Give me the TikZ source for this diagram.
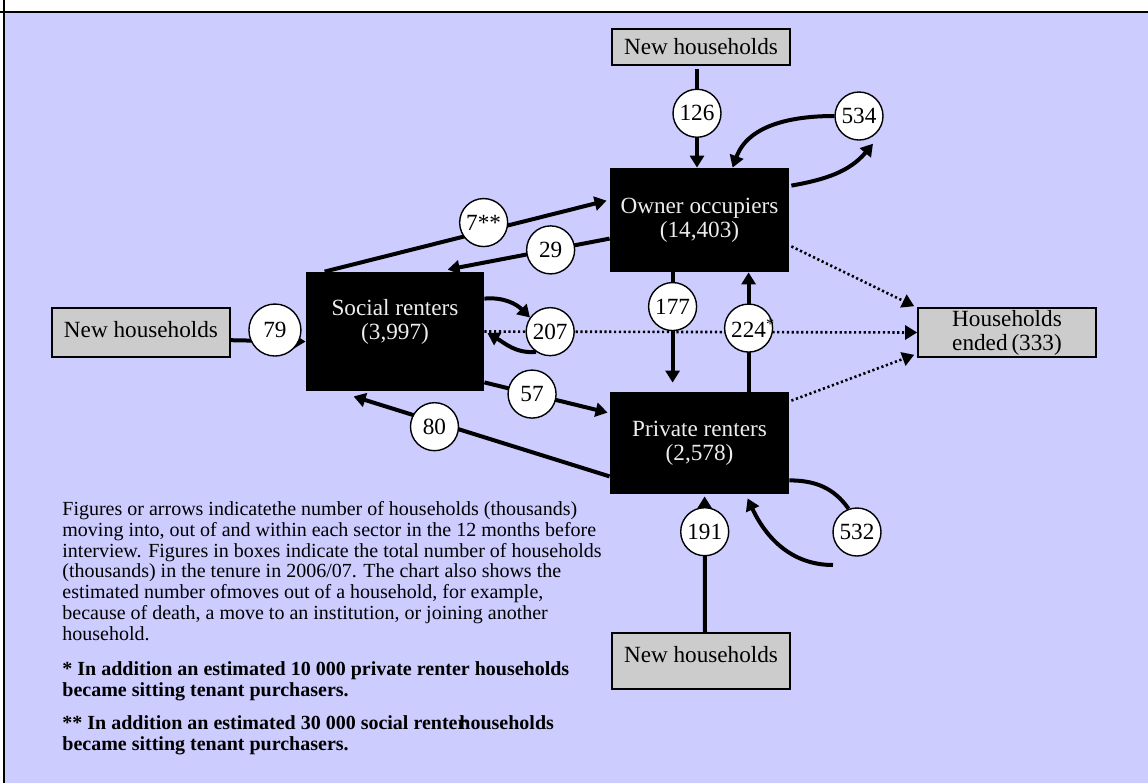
\documentclass[tikz,border=0pt]{standalone}
\usepackage{fontspec}
\setmainfont{Liberation Serif}
\usetikzlibrary{calc,arrows.meta}
\definecolor{lavender}{HTML}{CCCCFF}
\definecolor{boxgrey}{HTML}{CCCCCC}
\newcommand{\boxfont}{\fontsize{11.6}{12}\selectfont}
\newcommand{\notefont}{\fontsize{10}{10.4}\selectfont}
\tikzset{
  sector/.style={fill=black, text=white!93!black, inner sep=0pt, font=\boxfont, align=center},
  newbox/.style={draw=black, line width=0.8pt, fill=boxgrey, inner sep=0pt, font=\boxfont, align=center},
  num/.style={circle, draw=black, solid, line width=0.7pt, fill=white, inner sep=0pt, minimum size=24pt, font=\boxfont},
  flow/.style={line width=2pt, -{Triangle[length=6pt,width=7pt]}},
  flowline/.style={line width=2pt},
  gone/.style={line width=1.3pt, dash pattern=on 1.1pt off 1.3pt, -{Triangle[length=6pt,width=7pt]}},
  note/.style={inner sep=0pt, align=left, font=\notefont},
}

\begin{document}
\begin{tikzpicture}[x=0.5pt, y=0.5pt]
  \useasboundingbox (0,0) rectangle (1148,-783);
  % ---- frame ----
  \fill[white] (0,0) rectangle (1148,-783);
  \fill[lavender] (3,-12) rectangle (1148,-783);
  \draw[line width=1pt] (0,-12) -- (1148,-12);
  \draw[line width=1pt] (3.5,0) -- (3.5,-783);

  % ---- tenure boxes ----
  \node[sector, minimum width=89.5pt, minimum height=52pt] (own) at (699.5,-220) {Owner occupiers\\(14,403)};
  \node[sector, minimum width=89pt, minimum height=59.5pt, text depth=11.7pt] (soc) at (395,-331.5) {Social renters\\(3,997)};
  \node[sector, minimum width=89.5pt, minimum height=51pt] (pr) at (699.5,-443) {Private renters\\(2,578)};

  % ---- in / out boxes ----
  \node[newbox, minimum width=89pt, minimum height=18pt] (nhT) at (701,-47) {New households};
  \node[newbox, minimum width=89pt, minimum height=24.5pt, text depth=3.5pt] (nhL) at (141,-332.5) {New households};
  \node[newbox, minimum width=89pt, minimum height=28pt, text depth=7pt] (nhB) at (701,-661) {New households};
  \node[newbox, minimum width=89pt, minimum height=24.5pt] (he) at (1007,-332.5) {Households\\ended\,(333)};

  % ---- households ended (dotted) ----
  \draw[gone] (soc.east) -- node[num, pos=0.152] (o207) {207} (he.west);
  \draw[gone] ($(own.south east)+(2,26)$) -- ($(he.north west)+(-3,1)$);
  \draw[gone] ($(pr.north east)+(2,-9)$) -- ($(he.south west)+(-3,3)$);

  % ---- owner occupiers ----
  \draw[flow] ($(nhT.south)+(-4,-3)$) -- node[num, pos=0.45] (o126) {126} ($(own.north)+(-2.5,0)$);
  \node[num] (o534) at (859,-116) {534};
  \draw[flow] (o534.west) to[out=180, in=70] ($(own.north west)+(123,0)$);
  \draw[flow] ($(own.north east)+(2,-18)$) to[out=10, in=230] ($(o534.south)+(14,-3)$);

  % ---- social <-> owner ----
  \draw[flow] ($(soc.north west)+(19,0)$) -- node[num, pos=0.564, yshift=4.5pt] (o7) {7**} ($(own.north west)+(-3,-33)$);
  \draw[flow] ($(own.north west)+(0,-71)$) -- node[num, pos=0.364] (o29) {29} ($(soc.north west)+(142,2)$);

  % ---- within social ----
  \draw[flow] ($(soc.north east)+(0,-27)$) to[out=5, in=135] (o207.145);
  \draw[flow] (o207.235) to[out=185, in=-30] ($(soc.east)+(3,-1.5)$);
  \draw[flow] ($(nhL.north east)+(0,-33)$) -- node[num, pos=0.59, yshift=5.5pt, minimum size=26pt] (o79) {79} ($(soc.north west)+(0,-70)$);

  % ---- social <-> private ----
  \draw[flow] ($(soc.south east)+(0,9)$) -- node[num, pos=0.387] (o57) {57} ($(pr.north west)+(-2,-21)$);
  \draw[flow] ($(pr.south west)+(0,18)$) -- node[num, pos=0.684, yshift=-2.5pt] (o80) {80} ($(soc.south west)+(48,-5)$);

  % ---- owner <-> private ----
  \draw[flow] ($(own.south west)+(63,0)$) -- node[num, pos=0.31] (o177) {177} ($(pr.north west)+(63,9)$);
  \draw[flow] ($(pr.north west)+(139,0)$) -- node[num, pos=0.533] (o224) {224\rlap{\textsuperscript{*}}} ($(own.south west)+(139,0)$);

  % ---- private renters ----
  \draw[flow] ($(nhB.north)+(4,0)$) -- node[num, pos=0.74] (o191) {191} ($(pr.south west)+(95,-2)$);
  \node[num] (o532) at (857,-532) {532};
  \coordinate (t532) at (833,-565);
  \draw[flowline] ($(pr.south east)+(0,14)$) to[out=0, in=125] (o532.110);
  \draw[flow] (t532) to[out=180, in=-65] ($(pr.south west)+(138,-4)$);

  % ---- notes ----
  \node[note, anchor=north west] (txt) at (62,-501) {Figures or arrows indicatethe number of households (thousands)\\
    moving into, out of and within each sector in the 12 months before\\
    interview. Figures in boxes indicate the total number of households\\
    (thousands) in the tenure in 2006/07. The chart also shows the\\
    estimated number ofmoves out of a household, for example,\\
    because of death, a move to an institution, or joining another\\
    household.};
  \node[note, font=\notefont\bfseries, anchor=north west] (fn1) at (62,-661) {* In addition an estimated 10 000 private renter households\\
    became sitting tenant purchasers.};
  \node[note, font=\notefont\bfseries, anchor=north west] (fn2) at (62,-715) {** In addition an estimated 30 000 social renter\hspace{-0.35em}households\\
    became sitting tenant purchasers.};
\end{tikzpicture}
\end{document}
